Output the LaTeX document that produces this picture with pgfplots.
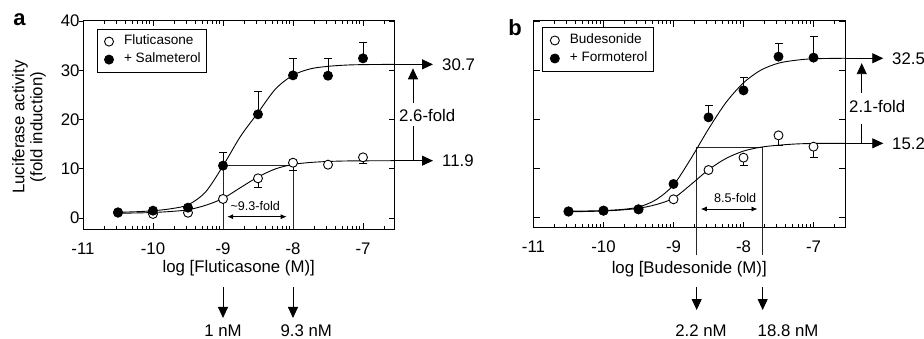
\documentclass[border=0pt]{standalone}
\usepackage{pgfplots}
\pgfplotsset{compat=1.18}
\usepackage{fontspec}
\setmainfont{Liberation Sans}
\usetikzlibrary{arrows.meta}

\newcommand{\mainsz}{\fontsize{16.8bp}{20bp}\selectfont}
\newcommand{\legsz}{\fontsize{13.6bp}{15bp}\selectfont}
\newcommand{\smsz}{\fontsize{12.6bp}{15bp}\selectfont}

\tikzset{
  ann/.style={black!85, line width=0.9bp},
  tri/.style={line width=0.9bp, -{Triangle[length=11bp,width=10bp]}},
  dbl/.style={line width=0.8bp, {Latex[length=6bp,width=5bp]}-{Latex[length=6bp,width=5bp]}},
  ltick/.style={line width=0.8bp, black},
}

\pgfplotsset{
  panel/.style={
    scale only axis, width=311.5bp, xmin=-11, xmax=-6.55,
    clip=false,
    axis line style={line width=0.9bp, black},
    tick align=inside, major tick length=6bp, minor tick length=3.5bp,
    every tick/.style={black, line width=0.8bp},
    xtick={-11,-10,-9,-8,-7},
    xticklabels={-11,-10,-9,-8,-7},
    minor xtick={-10.699,-10.523,-10.398,-10.301,-10.222,-10.155,-10.097,-10.046,
                 -9.699,-9.523,-9.398,-9.301,-9.222,-9.155,-9.097,-9.046,
                 -8.699,-8.523,-8.398,-8.301,-8.222,-8.155,-8.097,-8.046,
                 -7.699,-7.523,-7.398,-7.301,-7.222,-7.155,-7.097,-7.046,
                 -6.699},
    ytick={0,10,20,30,40},
    ticklabel style={font=\mainsz},
    xticklabel style={yshift=-10bp},
    legend cell align=left,
    legend style={anchor=north west, draw=black, line width=0.9bp, font=\legsz,
      outer sep=0pt, inner xsep=4bp, inner ysep=4.3bp, row sep=1.5bp,
      nodes={inner sep=2bp, text height=9.5bp, text depth=3bp}},
  },
  curve/.style={black, line width=0.9bp, smooth, no marks},
  limg/.style={legend image code/.code={\path[draw=none] (0bp,0bp) -- (21bp,0bp); \draw[##1] plot coordinates {(8bp,0bp)};}},
  openm/.style={only marks, mark=*, mark size=4.5bp, mark options={fill=white, draw=black, line width=0.9bp}, limg},
  fillm/.style={only marks, mark=*, mark size=4.5bp, mark options={fill=black, draw=black, line width=0.9bp}, limg},
  ebar/.style={forget plot, only marks, mark=none, black, error bars/.cd, y explicit, error mark=none,
    error bar style={line width=0.8bp, black}},
  caps/.style={forget plot, only marks, mark=-, mark size=4bp, mark options={line width=0.8bp, black}},
}

\begin{document}
\begin{tikzpicture}
\path[use as bounding box] (0,0) rectangle (924bp,339bp);

% ---------------- panel a ----------------
\begin{axis}[panel, at={(83bp,110bp)}, anchor=south west,
  height=208.5bp, ymin=-2.2, ymax=40.1,
  ytick pos=right, yticklabel pos=left,
  yticklabels={0,10,20,30,40},
  legend style={at={(0.045,0.959)}}]

% outward ticks on left
\draw[ltick] (axis cs:-11,0) -- ([xshift=-4bp]axis cs:-11,0);
\draw[ltick] (axis cs:-11,10) -- ([xshift=-4bp]axis cs:-11,10);
\draw[ltick] (axis cs:-11,20) -- ([xshift=-4bp]axis cs:-11,20);
\draw[ltick] (axis cs:-11,30) -- ([xshift=-4bp]axis cs:-11,30);
\draw[ltick] (axis cs:-11,40) -- ([xshift=-4bp]axis cs:-11,40);

% annotation lines
\draw[ann] (axis cs:-9,-2.2) -- (axis cs:-9,10.65) -- (axis cs:-8,10.65) -- (axis cs:-8,-2.2);

% fitted curves
\addplot[curve, forget plot] table {
x y
-10.5 1.0
-10.25 1.05
-10 1.15
-9.75 1.35
-9.5 1.7
-9.25 2.6
-9 4.0
-8.75 6.2
-8.5 8.35
-8.25 10.0
-8 10.9
-7.75 11.3
-7.5 11.5
-7.25 11.6
-7 11.63
-6.55 11.66
};
\addplot[curve, forget plot] table {
x y
-10.5 1.2
-10.25 1.3
-10 1.5
-9.75 1.9
-9.5 2.7
-9.25 5.3
-9 10.6
-8.75 16.6
-8.5 21.4
-8.25 26.2
-8 29.0
-7.75 30.3
-7.5 30.8
-7.25 31.05
-7 31.15
-6.55 31.2
};

% error bars (Fluticasone: downward, Salmeterol: upward)
\addplot[ebar, y dir=minus] table[x=x, y=y, y error=e] {
x y e
-8.5 8.08 1.82
-8 11.25 1.48
-7 12.34 1.2
};
\addplot[caps] table {
x y
-8.5 6.26
-8 9.77
-7 11.14
};
\addplot[ebar, y dir=plus] table[x=x, y=y, y error=e] {
x y e
-9 10.65 2.64
-8.5 21.06 4.6
-8 28.97 3.52
-7.5 28.9 3.46
-7 32.42 3.18
};
\addplot[caps] table {
x y
-9 13.29
-8.5 25.66
-8 32.49
-7.5 32.36
-7 35.6
};

% data
\addplot[openm] table {
x y
-10.5 1.11
-10 0.85
-9.5 1.1
-9 3.89
-8.5 8.08
-8 11.25
-7.5 10.85
-7 12.34
};
\addlegendentry{Fluticasone}
\addplot[fillm] table {
x y
-10.5 1.18
-10 1.52
-9.5 2.13
-9 10.65
-8.5 21.06
-8 28.97
-7.5 28.9
-7 32.42
};
\addlegendentry{+ Salmeterol}

% annotations
\draw[dbl] (axis cs:-8.94,0.3) -- (axis cs:-8.09,0.3);
\node[font=\smsz] at (axis cs:-8.54,2.47) {\textasciitilde9.3-fold};
\draw[tri] (axis cs:-9,-13.97) -- (axis cs:-9,-20.25);
\draw[tri] (axis cs:-8,-13.97) -- (axis cs:-8,-20.25);
\node[font=\mainsz, anchor=base, inner sep=0pt] at (axis cs:-9,-24.0) {1 nM};
\node[font=\mainsz, anchor=base, inner sep=0pt] at (axis cs:-7.81,-24.0) {9.3 nM};
\draw[tri] (axis cs:-6.55,31.2) -- (axis cs:-6.0,31.2);
\draw[tri] (axis cs:-6.55,11.66) -- (axis cs:-6.0,11.66);
\node[font=\mainsz, anchor=west, inner sep=0pt] at (axis cs:-5.871,31.2) {30.7};
\node[font=\mainsz, anchor=west, inner sep=0pt] at (axis cs:-5.871,11.66) {11.9};
\draw[line width=0.9bp] (axis cs:-6.286,11.66) -- (axis cs:-6.286,18.7);
\draw[tri] (axis cs:-6.286,23.4) -- (axis cs:-6.286,30.4);
\node[font=\mainsz, anchor=west, inner sep=0pt] at (axis cs:-6.486,20.9) {2.6-fold};
\node[font=\mainsz] at (rel axis cs:0.5,-0.187) {log [Fluticasone (M)]};
\node[rotate=90, align=center, font={\fontsize{16.8bp}{18bp}\selectfont}] at (rel axis cs:-0.173,0.489) {Luciferase activity\\(fold induction)};
\end{axis}

% ---------------- panel b ----------------
\begin{axis}[panel, at={(533.5bp,111.3bp)}, anchor=south west,
  height=207bp, ymin=-2.1, ymax=40.05,
  yticklabels={},
  legend style={at={(0.03,0.965)}}]

\draw[ann] (axis cs:-8.669,-7.66) -- (axis cs:-8.669,14.19) -- (axis cs:-7.726,14.19) -- (axis cs:-7.726,-7.66);

\addplot[curve, forget plot] table {
x y
-10.5 1.15
-10.25 1.2
-10 1.3
-9.75 1.5
-9.5 1.85
-9.25 2.6
-9 3.9
-8.75 6.7
-8.5 9.7
-8.25 12.0
-8 13.5
-7.75 14.3
-7.5 14.7
-7.25 14.95
-7 15.05
-6.55 15.08
};
\addplot[curve, forget plot] table {
x y
-10.5 1.25
-10.25 1.3
-10 1.4
-9.75 1.6
-9.5 2.1
-9.25 3.6
-9 6.6
-8.75 12.0
-8.5 18.0
-8.25 23.4
-8 27.4
-7.75 30.0
-7.5 31.4
-7.25 32.0
-7 32.3
-6.55 32.4
};

\addplot[ebar, y dir=minus] table[x=x, y=y, y error=e] {
x y e
-8 12.16 1.63
-7.5 16.7 2.1
-7 14.4 2.17
};
\addplot[caps] table {
x y
-8 10.53
-7.5 14.6
-7 12.23
};
\addplot[ebar, y dir=plus] table[x=x, y=y, y error=e] {
x y e
-8.5 20.37 2.45
-8 25.86 2.65
-7.5 32.73 2.65
-7 32.53 4.35
};
\addplot[caps] table {
x y
-8.5 22.82
-8 28.51
-7.5 35.38
-7 36.88
};

\addplot[openm] table {
x y
-10.5 1.17
-10 1.37
-9.5 1.64
-9 3.68
-8.5 9.65
-8 12.16
-7.5 16.7
-7 14.4
};
\addlegendentry{Budesonide}
\addplot[fillm] table {
x y
-10.5 1.23
-10 1.37
-9.5 1.64
-9 6.8
-8.5 20.37
-8 25.86
-7.5 32.73
-7 32.53
};
\addlegendentry{+ Formoterol}

\draw[dbl] (axis cs:-8.61,1.71) -- (axis cs:-7.80,1.71);
\node[font=\smsz] at (axis cs:-8.12,4.0) {8.5-fold};
\draw[tri] (axis cs:-8.669,-14.17) -- (axis cs:-8.669,-18.86);
\draw[tri] (axis cs:-7.726,-14.17) -- (axis cs:-7.726,-18.86);
\node[font=\mainsz, anchor=base, inner sep=0pt] at (axis cs:-8.607,-24.25) {2.2 nM};
\node[font=\mainsz, anchor=base, inner sep=0pt] at (axis cs:-7.364,-24.25) {18.8 nM};
\draw[tri] (axis cs:-6.55,32.4) -- (axis cs:-6.003,32.4);
\draw[tri] (axis cs:-6.55,15.08) -- (axis cs:-6.003,15.08);
\node[font=\mainsz, anchor=west, inner sep=0pt] at (axis cs:-5.879,32.4) {32.5};
\node[font=\mainsz, anchor=west, inner sep=0pt] at (axis cs:-5.879,15.08) {15.2};
\draw[line width=0.9bp] (axis cs:-6.311,15.08) -- (axis cs:-6.311,19.0);
\draw[tri] (axis cs:-6.311,25.3) -- (axis cs:-6.311,31.4);
\node[font=\mainsz, anchor=west, inner sep=0pt] at (axis cs:-6.493,22.5) {2.1-fold};
\node[font=\mainsz] at (rel axis cs:0.5,-0.2) {log [Budesonide (M)]};
\end{axis}

\node[font={\fontsize{22bp}{24bp}\selectfont\bfseries}, anchor=base] at (19.5bp,313bp) {a};
\node[font={\fontsize{22bp}{24bp}\selectfont\bfseries}, anchor=base] at (515bp,303bp) {b};
\end{tikzpicture}
\end{document}
